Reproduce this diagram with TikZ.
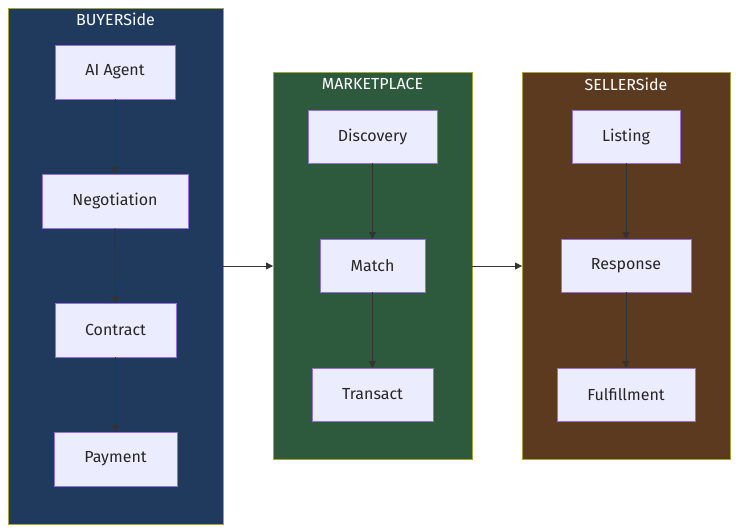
\documentclass[tikz,border=0pt]{standalone}
\usepackage{fontspec}
\setmainfont{Fira Sans}
\usetikzlibrary{arrows.meta}
\definecolor{buy}{HTML}{1F3A5C}
\definecolor{mkt}{HTML}{2D5A3D}
\definecolor{sel}{HTML}{5C3A1F}
\definecolor{cb}{HTML}{A5A53A}
\definecolor{nf}{HTML}{ECECFF}
\definecolor{ns}{HTML}{9370DB}
\definecolor{ar}{HTML}{333333}
\begin{document}
\begin{tikzpicture}[x=1pt,y=-1pt,
  clus/.style={draw=cb,line width=0.8pt},
  ttl/.style={text=white,font=\fontsize{16}{19}\selectfont,anchor=center},
  box/.style={draw=ns,fill=nf,line width=0.8pt,font=\fontsize{16}{19}\selectfont,text=black!85},
  arr/.style={draw=ar,line width=0.8pt,-{Triangle[length=7pt,width=7pt]}}]
\useasboundingbox (0,0) rectangle (738,532);
\fill[white] (0,0) rectangle (738,532);
\draw[clus,fill=buy] (8,8) rectangle (223,524);
\draw[clus,fill=mkt] (273,72) rectangle (472,459);
\draw[clus,fill=sel] (522,72) rectangle (730,459);
\node[ttl] (tb) at (115.5,19) {BUYERSide};
\node[ttl] (tm) at (372.5,84) {MARKETPLACE};
\node[ttl] (ts) at (626,84) {SELLERSide};
\newcommand{\bx}[6]{\draw[box] (#2,#3) rectangle (#4,#5); \node[font=\fontsize{16}{19}\selectfont,text=black!85] (#1) at ({(#2+#4)/2},{(#3+#5)/2}) {#6};
  \coordinate (#1t) at ({(#2+#4)/2},#3); \coordinate (#1b) at ({(#2+#4)/2},#5);}
\bx{a}{55}{45}{175}{99}{AI Agent}
\bx{n}{42}{174}{188}{228}{Negotiation}
\bx{c}{55}{303}{176}{357}{Contract}
\bx{p}{54}{432}{177}{486}{Payment}
\bx{d}{308}{110}{437}{163}{Discovery}
\bx{m}{320}{239}{425}{292}{Match}
\bx{t}{312}{368}{433}{421}{Transact}
\bx{l}{572}{110}{680}{163}{Listing}
\bx{r}{561}{239}{691}{292}{Response}
\bx{f}{557}{368}{695}{421}{Fulfillment}
\draw[arr] (ab) -- (nt);
\draw[arr] (nb) -- (ct);
\draw[arr] (cb) -- (pt);
\draw[arr] (db) -- (mt);
\draw[arr] (mb) -- (tt);
\draw[arr] (lb) -- (rt);
\draw[arr] (rb) -- (ft);
\coordinate (b1) at (223,266); \coordinate (m1) at (273,266);
\coordinate (m2) at (472,266); \coordinate (s1) at (522,266);
\draw[arr] (b1) -- (m1);
\draw[arr] (m2) -- (s1);
\end{tikzpicture}
\end{document}
